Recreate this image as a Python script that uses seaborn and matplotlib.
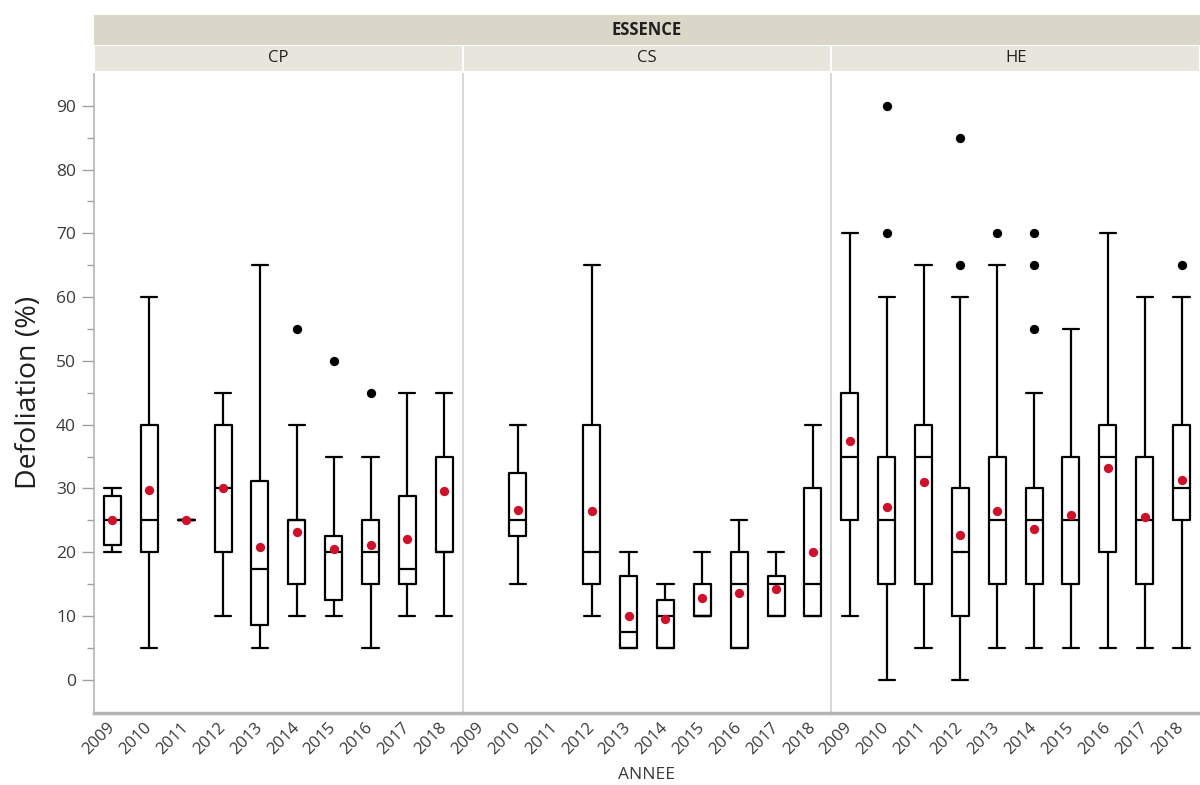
import matplotlib
matplotlib.use('Agg')
import matplotlib.pyplot as plt
import matplotlib.transforms as mtransforms
import seaborn as sns
import pandas as pd
import numpy as np

# Values (box summaries per year)
years = ['2009', '2010', '2011', '2012', '2013', '2014', '2015', '2016', '2017', '2018']
essences = ['CP', 'CS', 'HE']

cp_wlo = [20, 5, 25, 10, 5, 10, 10, 5, 10, 10]
cp_q1 = [21.2, 20, 25, 20, 8.6, 15, 12.5, 15, 15, 20]
cp_med = [25, 25, 25, 30, 17.4, 25, 20, 20, 17.4, 20]
cp_q3 = [28.8, 40, 25, 40, 31.1, 25, 22.5, 25, 28.8, 35]
cp_whi = [30, 60, 25, 45, 65, 40, 35, 35, 45, 45]
cp_mean = [25, 29.8, 25, 30, 20.8, 23.2, 20.5, 21.1, 22.1, 29.6]

cs_wlo = [np.nan, 15, np.nan, 10, 5, 5, 10, 5, 10, 10]
cs_q1 = [np.nan, 22.5, np.nan, 15, 5, 5, 10, 5, 10, 10]
cs_med = [np.nan, 25, np.nan, 20, 7.5, 10, 10, 15, 15, 15]
cs_q3 = [np.nan, 32.4, np.nan, 40, 16.3, 12.5, 15, 20, 16.3, 30]
cs_whi = [np.nan, 40, np.nan, 65, 20, 15, 20, 25, 20, 40]
cs_mean = [np.nan, 26.7, np.nan, 26.5, 10, 9.5, 12.9, 13.6, 14.2, 20.1]

he_wlo = [10, 0, 5, 0, 5, 5, 5, 5, 5, 5]
he_q1 = [25, 15, 15, 10, 15, 15, 15, 20, 15, 25]
he_med = [35, 25, 35, 20, 25, 25, 25, 35, 25, 30]
he_q3 = [45, 35, 40, 30, 35, 30, 35, 40, 35, 40]
he_whi = [70, 60, 65, 60, 65, 45, 55, 70, 60, 60]
he_mean = [37.4, 27.1, 31, 22.7, 26.5, 23.7, 25.8, 33.2, 25.5, 31.4]

out_essence = ['CP', 'CP', 'CP', 'HE', 'HE', 'HE', 'HE', 'HE', 'HE', 'HE', 'HE', 'HE']
out_year = ['2014', '2015', '2016', '2010', '2010', '2012', '2012', '2013',
            '2014', '2014', '2014', '2018']
out_value = [55, 50, 45, 90, 70, 85, 65, 70, 70, 65, 55, 65]

stats = {
    'CP': (cp_wlo, cp_q1, cp_med, cp_q3, cp_whi, cp_mean),
    'CS': (cs_wlo, cs_q1, cs_med, cs_q3, cs_whi, cs_mean),
    'HE': (he_wlo, he_q1, he_med, he_q3, he_whi, he_mean),
}
outliers = pd.DataFrame({'ESSENCE': out_essence, 'ANNEE': out_year, 'value': out_value})

sns.set_theme(style='white')
plt.rcParams['font.family'] = ['Open Sans', 'DejaVu Sans']

fig = plt.figure(figsize=(12, 7.85), dpi=100)
left, right, bottom, top = 94 / 1200, 1.0, 1 - 713 / 785, 1 - 72 / 785
pw = (right - left) / 3
grid_col = '#d0d0d0'
text_col = '#3a3a3a'
# nudge rotated year labels so they end just right of the tick, like JMP
shift = mtransforms.ScaledTranslation(8 / 100, 0, fig.dpi_scale_trans)

for i, ess in enumerate(essences):
    ax = fig.add_axes([left + i * pw, bottom, pw, top - bottom])
    wlo, q1, med, q3, whi, mean = stats[ess]
    boxes, pos = [], []
    for j in range(len(years)):
        if np.isnan(med[j]):
            continue
        boxes.append(dict(whislo=wlo[j], q1=q1[j], med=med[j], q3=q3[j],
                          whishi=whi[j], fliers=[]))
        pos.append(j)
    line = dict(color='black', linewidth=1.6)
    ax.bxp(boxes, positions=pos, widths=0.46, capwidths=0.44, showfliers=False,
           boxprops=line, whiskerprops=line, capprops=line,
           medianprops=dict(color='black', linewidth=1.6), manage_ticks=False)

    means = pd.DataFrame({'x': range(len(years)), 'mean': mean}).dropna()
    sns.scatterplot(data=means, x='x', y='mean', ax=ax, color='#d0102a',
                    s=45, linewidth=0, zorder=5)
    sub = outliers[outliers['ESSENCE'] == ess]
    sns.scatterplot(x=[years.index(y) for y in sub['ANNEE']], y=sub['value'],
                    ax=ax, color='black', s=45, linewidth=0, zorder=5)

    ax.set_xlim(-0.5, len(years) - 0.5)
    ax.set_ylim(-5.2, 95.3)
    ax.set_xticks(range(len(years)))
    ax.set_xticklabels(years, rotation=45, ha='right', va='center',
                       rotation_mode='anchor', fontsize=12, color=text_col)
    for lab in ax.get_xticklabels():
        lab.set_transform(lab.get_transform() + shift)
    ax.tick_params(axis='x', length=0, pad=9)
    ax.set_xlabel('')
    ax.set_ylabel('')
    for s in ['top', 'right']:
        ax.spines[s].set_visible(False)
    ax.spines['bottom'].set_color('#b5b5b5')
    ax.spines['bottom'].set_linewidth(2.5)
    ax.spines['left'].set_color(grid_col if i > 0 else '#b5b5b5')
    ax.spines['left'].set_linewidth(1.2)
    if i == 0:
        ax.set_yticks(range(0, 91, 10))
        ax.set_yticks(range(5, 91, 10), minor=True)
        ax.tick_params(axis='y', which='major', left=True, length=9, width=1,
                       color='#a0a0a0', labelsize=12.5, labelcolor=text_col, pad=4)
        ax.tick_params(axis='y', which='minor', left=True, length=5, width=1,
                       color='#a0a0a0')
        ax.set_ylabel('Defoliation (%)', fontsize=20.5, color='#202020', labelpad=9)
    else:
        ax.set_yticks([])

    # sub strip with the essence name
    fig.patches.append(plt.Rectangle((left + i * pw, top), pw, 27 / 785,
                                     transform=fig.transFigure,
                                     facecolor='#e8e6dc', edgecolor='white',
                                     linewidth=1.5))
    fig.text(left + (i + 0.5) * pw, top + 13.5 / 785, ess, ha='center',
             va='center', fontsize=12, color='#202020')

fig.patches.append(plt.Rectangle((left, top + 27 / 785), right - left, 30 / 785,
                                 transform=fig.transFigure,
                                 facecolor='#dad7c8', edgecolor='none'))
fig.text((left + right) / 2, top + 42 / 785, 'ESSENCE', ha='center', va='center',
         fontsize=12, fontweight='bold', color='#202020')
fig.text(left + 1.5 * pw, 1 - 775 / 785, 'ANNEE', ha='center', va='center',
         fontsize=12.5, color=text_col)

fig.savefig('out.png', dpi=100)
